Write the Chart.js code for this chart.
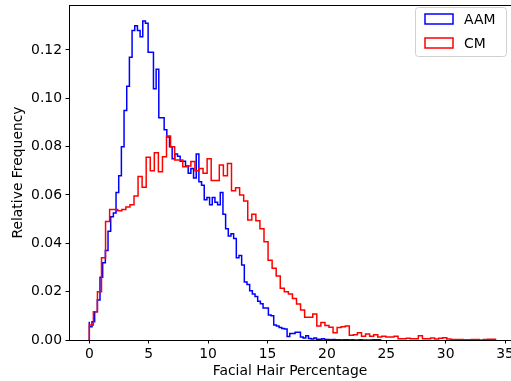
<!DOCTYPE html>
<html>
<head>
<meta charset="utf-8">
<script src="https://cdn.jsdelivr.net/npm/chart.js@4/dist/chart.umd.min.js"></script>
<style>
  html, body { margin: 0; padding: 0; background: #fff; }
  canvas { display: block; }
</style>
</head>
<body>
<canvas id="HairChart" width="511" height="381"></canvas>
<script>
// relative frequency per bin
var aamFreq = [0.0076,0.0055,0.0076,0.0117,0.0165,0.026,0.032,0.037,0.045,0.051,
  0.0525,0.061,0.068,0.080,0.095,0.105,0.117,0.128,0.130,0.128,
  0.1255,0.132,0.131,0.119,0.119,0.104,0.112,0.092,0.092,0.087,
  0.084,0.080,0.075,0.077,0.076,0.074,0.074,0.072,0.069,0.071,
  0.067,0.077,0.0655,0.064,0.058,0.059,0.056,0.059,0.057,0.056,
  0.061,0.052,0.046,0.043,0.044,0.042,0.034,0.035,0.031,0.024,
  0.023,0.0204,0.019,0.018,0.016,0.015,0.0132,0.0132,0.0103,0.0100,
  0.0062,0.0058,0.0052,0.0048,0.0045,0.0014,0.0027,0.0027,0.0032,0.0032,
  0.0012,0.0008,0.0018,0.0006,0.0004,0.0008,0.0003,0.0003,0.0005,0.0002,
  0.0002,0.0001,0.0002,0.0001,0.0001,0,0.0001,0.0001,0,0.0001,
  0,0,0.0001,0,0,0,0,0.0001,0.0001];
var cmFreq = [0.0055,0.0062,0.0117,0.020,0.034,0.049,0.054,0.054,0.0535,0.054,
  0.055,0.056,0.0596,0.0676,0.0632,0.0756,0.070,0.0775,0.0696,0.0758,
  0.0844,0.080,0.0745,0.0745,0.0717,0.072,0.0738,0.070,0.071,0.069,
  0.075,0.066,0.066,0.0724,0.068,0.073,0.0618,0.063,0.060,0.0575,
  0.0496,0.052,0.0493,0.046,0.0407,0.033,0.0297,0.0265,0.0214,0.020,
  0.019,0.0172,0.0149,0.0124,0.0094,0.0094,0.0108,0.0058,0.0072,0.006,
  0.0053,0.003,0.0052,0.0055,0.0058,0.002,0.0022,0.003,0.0015,0.0025,
  0.0015,0.0022,0.0012,0.0015,0.0012,0.0012,0.0016,0.0005,0.0005,0.0007,
  0.0005,0.0005,0.0018,0.0005,0.0005,0.0008,0.0004,0.0007,0.0009,0.0004,
  0.0002,0.0002,0.0002,0.0001,0.0001,0.0002,0.0002,0,0.0002,0.0003];
var aamBinWidth = 0.225;
var cmBinWidth = 0.342;
var seriesNames = ['AAM', 'CM'];
var xTicks = [0, 5, 10, 15, 20, 25, 30, 35];
var yTicks = [0, 0.02, 0.04, 0.06, 0.08, 0.10, 0.12];

var FONT = "'DejaVu Sans', sans-serif";

// outline of a step histogram starting at 0
function stepPoints(freq, width) {
  var pts = [{x: 0, y: 0}];
  for (var i = 0; i < freq.length; i++) {
    pts.push({x: i * width, y: freq[i]});
  }
  var end = freq.length * width;
  pts.push({x: end, y: freq[freq.length - 1]});
  pts.push({x: end, y: 0});
  return pts;
}

// top spine + legend box
var framePlugin = {
  id: 'frame',
  afterDraw: function(chart) {
    var ctx = chart.ctx, a = chart.chartArea;
    ctx.save();
    ctx.strokeStyle = '#000';
    ctx.lineWidth = 1;
    ctx.beginPath();
    ctx.moveTo(a.left, a.top + 0.5);
    ctx.lineTo(a.right, a.top + 0.5);
    ctx.stroke();

    var bx = 415.5, by = 7.5, bw = 91, bh = 49, r = 3;
    ctx.fillStyle = 'rgba(255,255,255,0.8)';
    ctx.strokeStyle = '#d0d0d0';
    ctx.beginPath();
    ctx.moveTo(bx + r, by);
    ctx.arcTo(bx + bw, by, bx + bw, by + bh, r);
    ctx.arcTo(bx + bw, by + bh, bx, by + bh, r);
    ctx.arcTo(bx, by + bh, bx, by, r);
    ctx.arcTo(bx, by, bx + bw, by, r);
    ctx.closePath();
    ctx.fill();
    ctx.stroke();

    chart.data.datasets.forEach(function(ds, i) {
      var cy = 19 + i * 24;
      ctx.strokeStyle = ds.borderColor;
      ctx.lineWidth = 1.5;
      ctx.strokeRect(425, cy - 5, 28, 10);
      ctx.fillStyle = '#000';
      ctx.font = '13.9px ' + FONT;
      ctx.textBaseline = 'middle';
      ctx.textAlign = 'left';
      ctx.fillText(ds.label, 464, cy + 1);
    });
    ctx.restore();
  }
};

var ctx = document.getElementById('HairChart');
new Chart(ctx, {
  type: 'line',
  data: {
    datasets: [{
      label: seriesNames[0],
      data: stepPoints(aamFreq, aamBinWidth),
      borderColor: '#0000ff',
      borderWidth: 1.5,
      stepped: 'after',
      pointRadius: 0,
      fill: false,
      order: 2
    }, {
      label: seriesNames[1],
      data: stepPoints(cmFreq, cmBinWidth),
      borderColor: '#ff0000',
      borderWidth: 1.5,
      stepped: 'after',
      pointRadius: 0,
      fill: false,
      order: 1
    }]
  },
  options: {
    responsive: false,
    animation: false,
    devicePixelRatio: 1,
    layout: { padding: { top: 5, right: 0, left: 0, bottom: 0 } },
    plugins: {
      legend: { display: false },
      tooltip: { enabled: false }
    },
    scales: {
      x: {
        type: 'linear',
        min: -1.71,
        max: 35.5,
        afterBuildTicks: function(scale) {
          scale.ticks = xTicks.map(function(v) { return {value: v}; });
        },
        afterFit: function(scale) {
          scale.height = 41;
          scale.paddingLeft = 0;
          scale.paddingRight = 0;
        },
        grid: { drawOnChartArea: false, drawTicks: true, tickLength: 3.5, color: '#000' },
        border: { display: true, color: '#000', width: 1 },
        ticks: {
          color: '#000',
          padding: 3,
          maxRotation: 0,
          autoSkip: false,
          font: { family: FONT, size: 13.9 },
          callback: function(v) { return v; }
        },
        title: {
          display: true,
          text: 'Facial Hair Percentage',
          color: '#000',
          font: { family: FONT, size: 13.9 },
          padding: { top: 0, bottom: 1.5 }
        }
      },
      y: {
        min: 0,
        max: 0.1386,
        afterBuildTicks: function(scale) {
          scale.ticks = yTicks.map(function(v) { return {value: v}; });
        },
        afterFit: function(scale) {
          scale.width = 69;
          scale.paddingTop = 0;
          scale.paddingBottom = 0;
        },
        grid: { drawOnChartArea: false, drawTicks: true, tickLength: 3.5, color: '#000' },
        border: { display: true, color: '#000', width: 1 },
        ticks: {
          color: '#000',
          padding: 3.5,
          autoSkip: false,
          font: { family: FONT, size: 13.9 },
          callback: function(v) { return v.toFixed(2); }
        },
        title: {
          display: true,
          text: 'Relative Frequency',
          color: '#000',
          font: { family: FONT, size: 13.9 },
          padding: { top: 9.7, bottom: 0 }
        }
      }
    }
  },
  plugins: [framePlugin]
});
</script>
</body>
</html>
